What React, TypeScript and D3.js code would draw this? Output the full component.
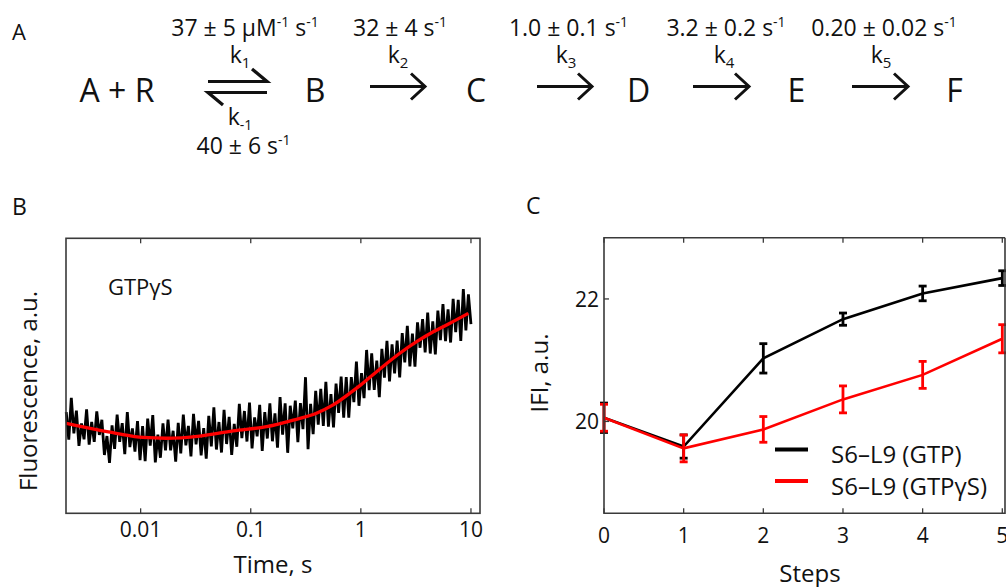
import React from 'react';
import * as d3 from 'd3';

const FONT = "'Open Sans', sans-serif";

// ---------- Panel A: kinetic scheme ----------
const species = ['A + R', 'B', 'C', 'D', 'E', 'F'];
const rateValues = ['37 ± 5 μM', '32 ± 4', '1.0 ± 0.1', '3.2 ± 0.2', '0.20 ± 0.02'];
const rateUnitsHasM = [true, false, false, false, false];
const rateNames = ['1', '2', '3', '4', '5'];
const reverseRate = '40 ± 6';
const reverseName = '-1';

// ---------- Panel B: stopped-flow trace ----------
const bTicks = [0.01, 0.1, 1, 10];
const bTickLabels = ['0.01', '0.1', '1', '10'];
const fitT = [0.00211, 0.006, 0.0105, 0.0171, 0.0344, 0.069, 0.139, 0.243, 0.395, 0.56, 0.79, 1.0, 1.39, 2.26, 3.21, 4.55, 6.44, 9.47];
const fitV = [3.27, 2.91, 2.76, 2.73, 2.81, 3.0, 3.15, 3.39, 3.64, 3.94, 4.36, 4.67, 5.15, 5.82, 6.24, 6.6, 6.91, 7.27];
const traceStart = 0.00211;
const traceEnd = 10;
const traceV = [
  3.68, 2.68, 4.2, 2.91, 3.73, 2.45, 3.27, 2.69, 3.78, 2.5,
  3.32, 2.6, 3.71, 2.85, 3.4, 2.12, 2.81, 1.83, 3.2, 2.34,
  3.59, 2.6, 3.28, 2.15, 3.68, 2.41, 3.09, 2.24, 3.35, 1.93,
  3.17, 1.9, 3.44, 2.46, 3.57, 1.85, 2.86, 2.02, 3.27, 2.29,
  3.41, 2.29, 3.0, 1.88, 3.29, 2.18, 3.59, 2.47, 3.18, 2.07,
  3.62, 2.51, 3.36, 2.11, 3.1, 1.99, 3.54, 2.43, 3.85, 2.32,
  3.32, 2.21, 3.76, 2.52, 3.51, 2.12, 3.25, 2.42, 3.98, 2.73,
  3.72, 2.61, 4.03, 2.36, 3.49, 2.8, 3.94, 2.27, 3.68, 2.72,
  4.0, 2.62, 3.63, 2.39, 4.23, 2.86, 4.0, 2.2, 3.91, 3.09,
  4.1, 2.59, 4.01, 3.06, 4.95, 2.33, 3.98, 2.88, 4.45, 3.22,
  4.53, 3.18, 4.78, 3.15, 4.33, 3.12, 4.72, 3.65, 4.97, 3.48,
  4.95, 3.48, 4.95, 4.04, 5.52, 3.91, 5.1, 4.19, 5.94, 4.48,
  5.82, 4.49, 5.55, 4.22, 5.98, 4.93, 6.27, 4.8, 6.14, 5.09,
  6.28, 4.94, 6.55, 5.49, 6.82, 5.34, 6.53, 5.33, 6.94, 6.02,
  7.06, 5.85, 7.3, 5.81, 6.98, 5.78, 7.37, 6.3, 7.61, 6.26,
  7.42, 6.21, 7.8, 6.59, 7.76, 6.27, 8.15, 6.65, 7.96, 6.88,
];

// ---------- Panel C: IFI vs steps ----------
const steps = [0, 1, 2, 3, 4, 5];
const gtpMean = [20.06, 19.59, 21.03, 21.67, 22.09, 22.34];
const gtpErr = [0.24, 0.19, 0.24, 0.1, 0.12, 0.12];
const gtpSMean = [20.06, 19.56, 19.87, 20.36, 20.76, 21.35];
const gtpSErr = [0.22, 0.22, 0.21, 0.22, 0.22, 0.23];
const cYTicks = [20, 22];
const legendLabels = ['S6–L9 (GTP)', 'S6–L9 (GTPγS)'];
const seriesColors = ['#000000', '#ff0000'];

// ---------- layout ----------
const schemeX = [117, 315, 476, 638.5, 796.5, 954.5];
const arrowX = [[370, 425], [537, 592], [693, 749], [852, 908]];
const rateX = [245, 400, 568.5, 726, 884];
const kX = [240, 398, 566, 724, 881];

const FRAME = '#3a3a3a';

export default function App() {
  // Panel B scales
  const xB = d3.scaleLog().domain([0.0021, 12.08]).range([66, 480]);
  const yB = d3.scaleLinear().domain([0, 10]).range([513.3, 238.3]);
  const n = traceV.length;
  const lg0 = Math.log10(traceStart);
  const lg1 = Math.log10(traceEnd);
  const traceT = traceV.map((_, i) => Math.pow(10, lg0 + ((lg1 - lg0) * i) / (n - 1)));
  const traceLine = d3
    .line<number>()
    .x((_, i) => xB(traceT[i]))
    .y((v) => yB(v))(traceV) as string;
  const fitLine = d3
    .line<number>()
    .x((_, i) => xB(fitT[i]))
    .y((v) => yB(v))
    .curve(d3.curveMonotoneX)(fitV) as string;

  // Panel C scales
  const xC = d3.scaleLinear().domain([0, 5]).range([604, 1002.3]);
  const yC = d3.scaleLinear().domain([18.5, 23]).range([513.3, 237.7]);
  const cLine = (vals: number[]) =>
    d3
      .line<number>()
      .x((_, i) => xC(steps[i]))
      .y((v) => yC(v))(vals) as string;

  const errBars = (means: number[], errs: number[], color: string) =>
    means.map((m, i) => {
      const x = xC(steps[i]);
      const y0 = yC(m - errs[i]);
      const y1 = yC(m + errs[i]);
      return (
        <g key={i} stroke={color} strokeWidth={2.8} fill="none">
          <line x1={x} x2={x} y1={y0} y2={y1} />
          <line x1={x - 4} x2={x + 4} y1={y0} y2={y0} />
          <line x1={x - 4} x2={x + 4} y1={y1} y2={y1} />
        </g>
      );
    });

  const arrowY = 86.5;

  return (
    <svg
      width={1006}
      height={587}
      style={{ position: 'absolute', left: 0, top: 0, background: '#fff' }}
      fontFamily={FONT}
    >
      <rect x={0} y={0} width={1006} height={587} fill="#fff" />

      {/* ================= Panel A ================= */}
      <text x={12} y={40} fontSize={22} fill="#111">A</text>
      {species.map((s, i) => (
        <text key={s} x={schemeX[i]} y={101.7} fontSize={32} textAnchor="middle" fill="#111">
          {s}
        </text>
      ))}
      <g stroke="#111" strokeWidth={3.2} fill="none" strokeLinecap="butt">
        <path d="M208,81.5 L267,81.5 L252,69" />
        <path d="M267,92.5 L208,92.5 L223,105" />
      </g>
      <g stroke="#111" strokeWidth={3} fill="none">
        {arrowX.map(([a, b], i) => (
          <path key={i} d={`M${a},${arrowY} L${b},${arrowY} M${b - 14},${arrowY - 13} L${b},${arrowY} L${b - 14},${arrowY + 13}`} />
        ))}
      </g>
      {rateValues.map((r, i) => (
        <text key={r} x={rateX[i]} y={36} fontSize={23} textAnchor="middle" fill="#111">
          {r}
          {rateUnitsHasM[i] ? (
            <>
              <tspan fontSize={14} dy={-9}>-1</tspan>
              <tspan dy={9}> s</tspan>
            </>
          ) : (
            <tspan> s</tspan>
          )}
          <tspan fontSize={14} dy={-9}>-1</tspan>
        </text>
      ))}
      {rateNames.map((k, i) => (
        <text key={k} x={kX[i]} y={63} fontSize={23} textAnchor="middle" fill="#111">
          k<tspan fontSize={15} dy={5}>{k}</tspan>
        </text>
      ))}
      <text x={240} y={125} fontSize={23} textAnchor="middle" fill="#111">
        k<tspan fontSize={14} dy={5}>{reverseName}</tspan>
      </text>
      <text x={243.5} y={154} fontSize={23} textAnchor="middle" fill="#111">
        {reverseRate} s<tspan fontSize={14} dy={-9}>-1</tspan>
      </text>

      {/* ================= Panel B ================= */}
      <text x={12} y={215} fontSize={23} fill="#111">B</text>
      <path d={traceLine} fill="none" stroke="#000" strokeWidth={2.8} strokeLinejoin="miter" />
      <path d={fitLine} fill="none" stroke="#ff0000" strokeWidth={3.3} />
      <rect x={66} y={238.3} width={414} height={275} fill="none" stroke={FRAME} strokeWidth={1.6} />
      {bTicks.map((t) => (
        <g key={t} stroke={FRAME} strokeWidth={1.3}>
          <line x1={xB(t)} x2={xB(t)} y1={513.3} y2={508.3} />
          <line x1={xB(t)} x2={xB(t)} y1={238.3} y2={243.3} />
        </g>
      ))}
      {bTicks.map((t, i) => (
        <text key={t} x={xB(t)} y={537} fontSize={21} textAnchor="middle" fill="#111">
          {bTickLabels[i]}
        </text>
      ))}
      <text x={108} y={295} fontSize={22} fill="#111">GTPγS</text>
      <text x={273} y={573} fontSize={24} textAnchor="middle" fill="#111">Time, s</text>
      <text transform="translate(37,391) rotate(-90)" fontSize={24} textAnchor="middle" fill="#111">
        Fluorescence, a.u.
      </text>

      {/* ================= Panel C ================= */}
      <text x={526} y={214} fontSize={23} fill="#111">C</text>
      <path d={cLine(gtpMean)} fill="none" stroke={seriesColors[0]} strokeWidth={2.6} />
      {errBars(gtpMean, gtpErr, seriesColors[0])}
      <path d={cLine(gtpSMean)} fill="none" stroke={seriesColors[1]} strokeWidth={2.6} />
      {errBars(gtpSMean, gtpSErr, seriesColors[1])}
      <path
        d={`M1005,237.7 L604,237.7 L604,513.3 L1005,513.3 L1005,237.7`}
        fill="none"
        stroke={FRAME}
        strokeWidth={1.6}
      />
      {steps.map((s) => (
        <g key={s} stroke={FRAME} strokeWidth={1.3}>
          <line x1={xC(s)} x2={xC(s)} y1={513.3} y2={508.3} />
          <line x1={xC(s)} x2={xC(s)} y1={237.7} y2={242.7} />
        </g>
      ))}
      {cYTicks.map((v) => (
        <line key={v} x1={604} x2={609} y1={yC(v)} y2={yC(v)} stroke={FRAME} strokeWidth={1.3} />
      ))}
      {steps.map((s) => (
        <text key={s} x={xC(s)} y={542.7} fontSize={21} textAnchor="middle" fill="#111">
          {s}
        </text>
      ))}
      {cYTicks.map((v) => (
        <text key={v} x={599} y={yC(v) + 8} fontSize={21} textAnchor="end" fill="#111">
          {v}
        </text>
      ))}
      <text x={810} y={582} fontSize={24} textAnchor="middle" fill="#111">Steps</text>
      <text transform="translate(548,373) rotate(-90)" fontSize={24} textAnchor="middle" fill="#111">
        IFI, a.u.
      </text>
      {legendLabels.map((l, i) => (
        <g key={l}>
          <line x1={775} x2={808} y1={449.5 + i * 31.5} y2={449.5 + i * 31.5} stroke={seriesColors[i]} strokeWidth={4} />
          <text x={831} y={463 + i * 32} fontSize={24} fill="#111">{l}</text>
        </g>
      ))}
    </svg>
  );
}
